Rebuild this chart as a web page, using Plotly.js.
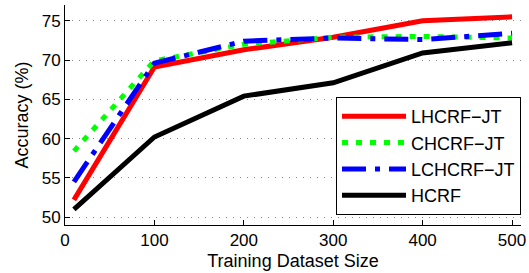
<!DOCTYPE html>
<html>
<head>
<meta charset="utf-8">
<script src="https://cdn.plot.ly/plotly-3.0.1.min.js"></script>
<style>html,body{margin:0;padding:0;background:#fff;}#chart{width:529px;height:273px;}</style>
</head>
<body>
<div id="chart"></div>
<script>
const trainingSizes = [10, 100, 200, 300, 400, 500];
const seriesNames = ["LHCRF\u2212JT", "CHCRF\u2212JT", "LCHCRF\u2212JT", "HCRF"];
const lhcrfJT = [52.2, 69.1, 71.3, 72.9, 75.0, 75.5];
const chcrfJT = [58.4, 69.9, 72.0, 72.9, 73.0, 72.8];
const lchcrfJT = [54.5, 69.6, 72.4, 72.8, 72.6, 73.4];
const hcrf = [51.0, 60.2, 65.4, 67.1, 70.9, 72.2];
const xTicks = [0, 100, 200, 300, 400, 500];
const yTicks = [50, 55, 60, 65, 70, 75];

const font = "Liberation Sans, Arial, Helvetica, sans-serif";
const styles = [
  {color: "#ff0000", dash: "solid"},
  {color: "#00ff00", dash: "6px,8px"},
  {color: "#0000ff", dash: "24px,9px,5px,9px"},
  {color: "#000000", dash: "solid"}
];
const values = [lhcrfJT, chcrfJT, lchcrfJT, hcrf];
const traces = values.map((v, i) => ({
  x: trainingSizes, y: v, type: "scatter", mode: "lines", name: seriesNames[i],
  line: {color: styles[i].color, width: 5, dash: styles[i].dash}
}));

const layout = {
  width: 529, height: 273,
  margin: {l: 65, r: 8, t: 4.5, b: 48},
  paper_bgcolor: "#fff", plot_bgcolor: "#fff",
  font: {family: font, size: 17, color: "#000"},
  showlegend: true,
  legend: {
    x: 1, xanchor: "right", y: 0.582, yanchor: "top",
    bgcolor: "#fff", bordercolor: "#000", borderwidth: 1,
    font: {family: font, size: 18, color: "#000"},
    itemwidth: 64, traceorder: "normal"
  },
  xaxis: {
    range: [0, 510], tickvals: xTicks, ticktext: xTicks.map(String),
    ticks: "inside", ticklen: 5, tickcolor: "#000", tickwidth: 1,
    showline: true, linecolor: "#000", linewidth: 1, mirror: false,
    showgrid: false, zeroline: false,
    tickfont: {family: font, size: 17},
    title: {text: "Training Dataset Size", font: {family: font, size: 18}, standoff: 4}
  },
  yaxis: {
    range: [49, 77], tickvals: yTicks, ticktext: yTicks.map(String),
    ticks: "inside", ticklen: 5, tickcolor: "#000", tickwidth: 1,
    showline: true, linecolor: "#000", linewidth: 1, mirror: false,
    showgrid: true, gridcolor: "#888", gridwidth: 1, griddash: "1px,6px",
    zeroline: false,
    tickfont: {family: font, size: 17},
    title: {text: "Accuracy (%)", font: {family: font, size: 18}, standoff: 8}
  }
};
Plotly.newPlot("chart", traces, layout, {staticPlot: true, displayModeBar: false});
</script>
</body>
</html>
